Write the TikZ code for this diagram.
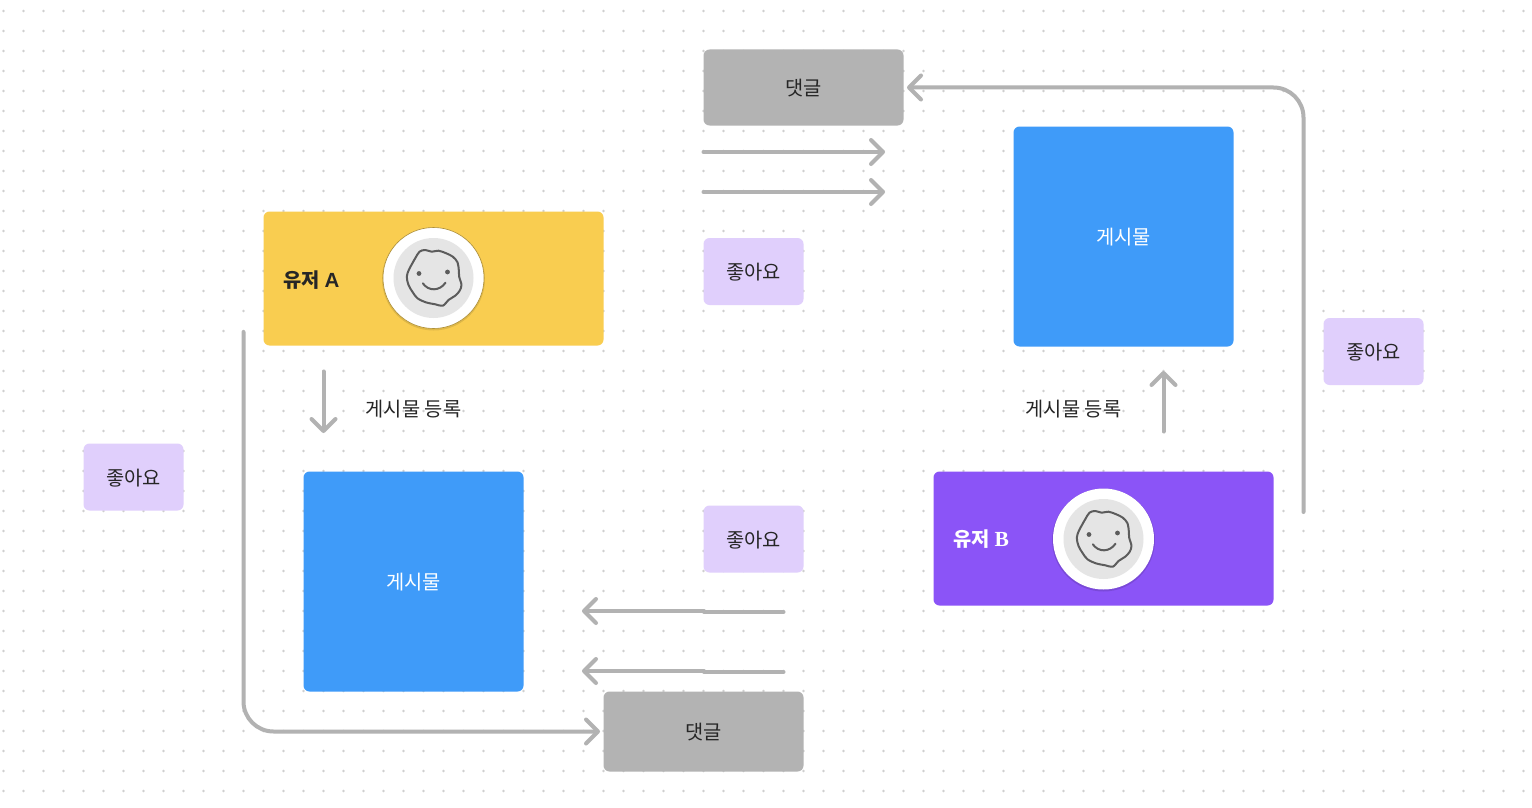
\documentclass[tikz,border=0pt]{standalone}
\usepackage{fontspec}
\usetikzlibrary{arrows.meta}
\setmainfont{Noto Sans CJK KR}
\newfontfamily\latinA{Liberation Sans}
\newfontfamily\latinB{Liberation Serif}
\definecolor{ink}{HTML}{262626}
\definecolor{linegray}{HTML}{B2B2B2}
\definecolor{cmtgray}{HTML}{B3B3B3}
\definecolor{postblue}{HTML}{3F9BF9}
\definecolor{likepurple}{HTML}{E0CFFC}
\definecolor{userA}{HTML}{F9CD50}
\definecolor{userB}{HTML}{8B54F7}
\definecolor{facegray}{HTML}{E5E5E5}
\definecolor{faceline}{HTML}{5C5C5C}
\definecolor{dotgray}{HTML}{CFCFCF}
\tikzset{
  x=1pt,y=-1pt,
  card/.style={rectangle,rounded corners=6pt,inner sep=0pt,outer sep=0pt,anchor=north west,
    font=\fontsize{19.8}{22}\selectfont,text=ink,text height=18pt,text depth=2pt},
  post/.style={card,fill=postblue,text=white,minimum width=220pt,minimum height=220pt},
  comment/.style={card,fill=cmtgray,minimum width=200pt},
  like/.style={card,fill=likepurple,minimum width=100pt,minimum height=67pt},
  user/.style={card,minimum width=340pt,minimum height=134pt},
  label/.style={inner sep=0pt,font=\fontsize{19.8}{22}\selectfont,text=ink,text height=18pt,text depth=2pt},
  uname/.style={inner sep=0pt,font=\fontsize{19.8}{22}\selectfont\bfseries},
  avatar/.style={circle,fill=white,minimum size=101pt,inner sep=0pt,outer sep=0pt},
  link/.style={draw=linegray,line width=4pt,line cap=round,line join=round,
    -{Straight Barb[length=12pt,width=24pt,line width=4pt,round]}},
}
\newcommand{\smileyface}[1]{%
  \fill[facegray] (#1) circle[radius=40pt];
  \begin{scope}[shift={(#1)}]
    \draw[faceline,line width=2pt,line cap=round,line join=round]
      plot[smooth cycle,tension=0.55] coordinates {
        (-18.3,-19.7) (-14,-26.3) (-8.3,-28) (-1.7,-26.3) (5,-27.3) (12.7,-24.7)
        (19.3,-21.3) (24,-15.7) (25.3,-8) (25.7,-1.3) (28,7) (26,13) (21.7,17.7)
        (15,22) (9.3,27.7) (1.7,26.3) (-7.7,24.3) (-16,20.3) (-20.7,14.3) (-25,7)
        (-26.7,-1.3) (-24.7,-8) (-21.7,-13.7)};
    \fill[faceline] (-14.5,-4.5) circle[radius=2.4pt];
    \fill[faceline] (14,-6) circle[radius=2.4pt];
    \draw[faceline,line width=2pt,line cap=round]
      (-10.7,5.3) .. controls (-5,13.4) and (6,13.4) .. (12,4.7);
  \end{scope}}
\begin{document}
\begin{tikzpicture}
\useasboundingbox (0,0) rectangle (1532,808);
\fill[white] (0,0) rectangle (1532,808);
\foreach \i in {0,...,76}{
  \foreach \j in {0,...,39}{
    \fill[dotgray] ({3.5+20*\i},{11+20*\j}) circle[radius=1.3pt];
  }
}
% cards
\node[user,fill=userA] (ua) at (263.5,211.5) {};
\node[user,fill=userB] (ub) at (933.5,471.5) {};
\node[post] (pa) at (303.5,471.5) {게시물};
\node[post] (pb) at (1013.5,126.5) {게시물};
\node[comment,minimum height=76pt] (ca) at (703.5,49.5) {댓글};
\node[comment,minimum height=80pt] (cb) at (603.5,691.5) {댓글};
\node[like] (l1) at (703.5,238) {좋아요};
\node[like] (l2) at (83.5,443.5) {좋아요};
\node[like] (l3) at (703.5,505.5) {좋아요};
\node[like] (l4) at (1323.5,318) {좋아요};
% user names
\node[uname,text=ink,anchor=west] (na) at (283.5,280) {유저 {\fontsize{20.5}{22}\latinA\bfseries A}};
\node[uname,text=white,anchor=west] (nb) at (953.5,539.5) {유저 {\fontsize{21.5}{22}\latinB\bfseries B}};
% avatars
\fill[black,opacity=0.10] (433.5,279) circle[radius=51.5pt];
\node[avatar,draw=black!30!userA,line width=0.6pt] (fa) at (433.5,278) {};
\smileyface{fa.center}
\fill[black,opacity=0.12] (1103.5,540) circle[radius=51.5pt];
\node[avatar] (fb) at (1103.5,539) {};
\smileyface{fb.center}
% labels
\node[label] (ga) at (413.5,408.5) {게시물 등록};
\node[label] (gb) at (1073.5,408.5) {게시물 등록};
% free connector ends
\coordinate (s1) at (703.5,152); \coordinate (e1) at (885,152);
\coordinate (s2) at (703.5,192); \coordinate (e2) at (885,192);
\coordinate (s3) at (783.5,612); \coordinate (j3) at (704,612); \coordinate (k3) at (704,611); \coordinate (e3) at (582,611);
\coordinate (s4) at (783.5,672); \coordinate (j4) at (704,672); \coordinate (k4) at (704,671); \coordinate (e4) at (582,671);
\coordinate (s5) at (323.5,371.5); \coordinate (e5) at (323.5,433);
\coordinate (s6) at (1163.5,431.5); \coordinate (e6) at (1163.5,371);
\coordinate (s7) at (243.5,332); \coordinate (b7) at (243.5,731.5);
\coordinate (s8) at (1303.5,512); \coordinate (b8) at (1303.5,87.5);
% connectors
\draw[link] (s1) -- (e1);
\draw[link] (s2) -- (e2);
\draw[link] (s3) -- (j3) -- (k3) -- (e3);
\draw[link] (s4) -- (j4) -- (k4) -- (e4);
\draw[link] (s5) -- (e5);
\draw[link] (s6) -- (e6);
\draw[link,rounded corners=30pt,shorten >=3.5pt] (s7) -- (b7) -- (cb.west);
\draw[link,rounded corners=30pt,shorten >=3.5pt] (s8) -- (b8) -- (ca.east);
\end{tikzpicture}
\end{document}
